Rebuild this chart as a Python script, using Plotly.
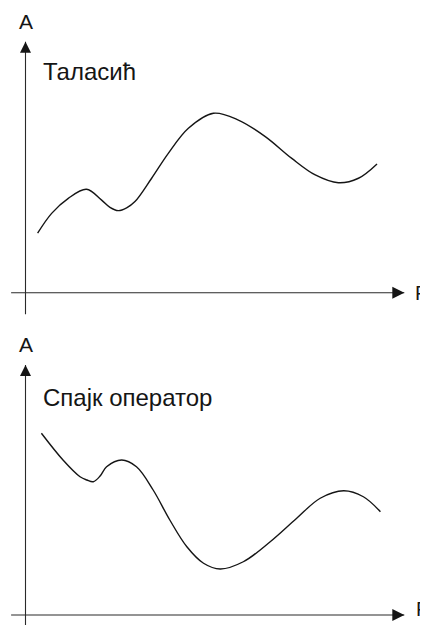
import plotly.graph_objects as go

# ---- data (F = frequency axis units, A = amplitude units) ----
F_wavelet = [0.32, 0.69, 1.13, 1.61, 2.01, 2.23, 2.45, 2.67, 2.89, 3.33, 3.77,
             4.30, 4.96, 5.62, 6.33, 7.03, 7.65, 8.26, 8.79, 9.28]
A_wavelet = [2.37, 3.16, 3.76, 4.12, 3.69, 3.40, 3.27, 3.38, 3.63, 4.56, 5.55,
             6.55, 7.15, 6.88, 6.22, 5.35, 4.69, 4.38, 4.56, 5.13]

F_spike = [0.42, 0.99, 1.44, 1.62, 1.79, 1.97, 2.14, 2.54, 2.93, 3.37, 3.81,
           4.26, 4.70, 5.14, 5.75, 6.46, 7.16, 7.78, 8.40, 8.92, 9.37]
A_spike = [7.27, 6.20, 5.53, 5.40, 5.33, 5.56, 5.93, 6.20, 5.93, 5.00, 3.80,
           2.73, 2.07, 1.84, 2.13, 2.93, 3.87, 4.67, 4.97, 4.73, 4.13]

panel_titles = ["Таласић", "Спајк оператор"]
axis_x_label = "F"
axis_y_label = "A"

AXIS_MAX = 10  # arrow tips of both axes

INK = "#151515"
FONT = "Liberation Sans, Arial, sans-serif"

# The page body has an 8px default margin, so the figure is sized to the
# visible part of the 428x625 window.
W, H = 420, 617
SPLIT = 310  # px from top where the two panels meet

fig = go.Figure()

panels = [
    dict(xa="x", ya="y", F=F_wavelet, A=A_wavelet, ylow=-0.86,
         a_y=10.82, t_y=8.80, f_x=10.45, f_y=0.0),
    dict(xa="x2", ya="y2", F=F_spike, A=A_spike, ylow=-0.45,
         a_y=10.82, t_y=8.70, f_x=10.46, f_y=0.26),
]

for i, p in enumerate(panels):
    xa, ya = p["xa"], p["ya"]
    common = dict(xaxis=xa, yaxis=ya, hoverinfo="skip", showlegend=False)
    # horizontal axis line
    fig.add_trace(go.Scatter(x=[-0.38, AXIS_MAX], y=[0, 0], mode="lines",
                             line=dict(color="#2a2a2a", width=1.1), **common))
    # vertical axis line
    fig.add_trace(go.Scatter(x=[0, 0], y=[p["ylow"], AXIS_MAX], mode="lines",
                             line=dict(color="#2a2a2a", width=1.1), **common))
    # arrow heads
    fig.add_trace(go.Scatter(x=[AXIS_MAX], y=[0], mode="markers",
                             marker=dict(symbol="arrow-right", size=12, color=INK,
                                         line=dict(width=0)), **common))
    fig.add_trace(go.Scatter(x=[0], y=[AXIS_MAX], mode="markers",
                             marker=dict(symbol="arrow-up", size=11, color=INK,
                                         line=dict(width=0)), **common))
    # curve
    fig.add_trace(go.Scatter(x=p["F"], y=p["A"], mode="lines",
                             line=dict(color=INK, width=1.4, shape="spline",
                                       smoothing=1.0), **common))
    # labels
    fig.add_annotation(x=0, y=p["a_y"], xref=xa, yref=ya, text=axis_y_label,
                       showarrow=False, xanchor="center", yanchor="middle",
                       font=dict(family=FONT, size=21, color=INK))
    fig.add_annotation(x=p["f_x"], y=p["f_y"], xref=xa, yref=ya,
                       text=axis_x_label, showarrow=False, xanchor="center",
                       yanchor="middle", font=dict(family=FONT, size=20, color=INK))
    fig.add_annotation(x=0.40, y=p["t_y"], xref=xa, yref=ya,
                       text=panel_titles[i], showarrow=False, xanchor="left",
                       yanchor="middle", font=dict(family=FONT, size=24, color=INK))

xr = [-0.462, 10.626]
hidden = dict(visible=False, autorange=False, fixedrange=True)
fig.update_layout(
    width=W, height=H, margin=dict(l=0, r=0, t=0, b=0, pad=0),
    plot_bgcolor="white", paper_bgcolor="white", showlegend=False,
    xaxis=dict(domain=[0, 1], range=xr, anchor="y", **hidden),
    yaxis=dict(domain=[1 - SPLIT / H, 1], range=[-1.008, 11.343], anchor="x",
               **hidden),
    xaxis2=dict(domain=[0, 1], range=xr, anchor="y2", **hidden),
    yaxis2=dict(domain=[0, 1 - SPLIT / H], range=[-0.4, 11.88], anchor="x2",
                **hidden),
)

fig.write_html("out.html", config={"displayModeBar": False})
